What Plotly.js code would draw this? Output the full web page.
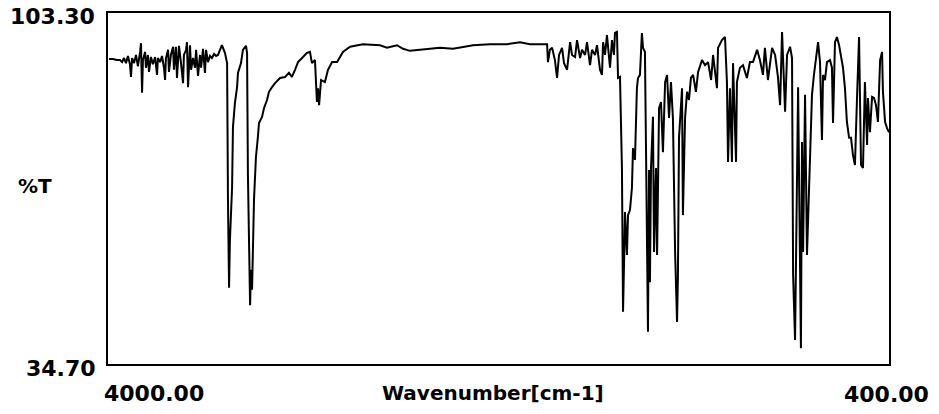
<!DOCTYPE html>
<html>
<head>
<meta charset="utf-8">
<script src="https://cdn.plot.ly/plotly-3.0.1.min.js"></script>
<style>
html,body{margin:0;padding:0;background:#fff;}
#chart{width:939px;height:414px;}
</style>
</head>
<body>
<div id="chart"></div>
<script>
// Wavenumber (cm-1)
const wavenumber = [
3995,3977,3959,3945,3935,3926,3917,3908,3899,3894,3889,3880,3871,3862,3852,3848,3843,3839,3829,3825,
3816,3811,3802,3793,3783,3774,3770,3760,3751,3742,3737,3733,3723,3719,3710,3700,3696,3687,3682,3673,
3664,3654,3650,3640,3636,3631,3622,3617,3608,3599,3594,3585,3576,3571,3562,3553,3548,3539,3530,3521,
3511,3502,3493,3484,3475,3461,3451,3447,3442,3438,3428,3424,3415,3405,3401,3387,3378,3364,3359,3355,
3350,3345,3341,3336,3327,3318,3309,3304,3290,3281,3267,3258,3244,3230,3207,3184,3166,3152,3138,3124,
3101,3083,3069,3060,3046,3037,3032,3027,3018,3000,2986,2967,2944,2917,2884,2825,2746,2714,2668,2640,
2608,2516,2470,2410,2317,2239,2161,2101,2055,1976,1972,1963,1953,1940,1930,1921,1907,1898,1884,1870,
1861,1847,1838,1824,1815,1801,1792,1778,1769,1755,1746,1732,1723,1718,1709,1700,1691,1686,1677,1668,
1663,1654,1649,1640,1631,1626,1621,1617,1608,1603,1594,1585,1580,1571,1562,1557,1548,1539,1534,1525,
1520,1515,1511,1506,1502,1497,1488,1483,1474,1469,1465,1460,1451,1442,1432,1423,1414,1405,1396,1386,
1377,1373,1368,1354,1350,1340,1331,1322,1313,1303,1290,1280,1262,1248,1234,1220,1211,1193,1188,1170,
1156,1147,1142,1133,1124,1119,1105,1101,1087,1073,1055,1041,1027,1008,995,981,972,958,939,925,
912,902,893,879,870,856,847,842,833,819,806,801,796,787,778,764,755,746,736,727,
718,709,704,695,686,672,663,658,649,640,630,621,612,603,594,584,575,566,557,547,
538,529,520,511,501,497,488,478,469,460,451,441,432,428,418,409,400
];
// Transmittance (%T)
const transmittance = [
94.3,94.3,94.1,94.1,93.7,94.5,93.5,94.9,93.3,90.8,94.5,93.5,95.1,92.9,95.7,97.4,87.7,94.1,95.7,92.6,
95.1,91.8,94.7,93.3,94.7,91.2,94.5,93.7,94.9,92.6,90.2,94.5,96.1,91.8,95.1,96.7,92.2,96.7,90.6,96.9,
93.7,89.6,95.1,96.1,97.6,88.8,97.0,92.2,94.5,92.6,96.1,91.0,95.1,92.6,96.3,91.6,96.1,93.7,94.9,94.5,
95.3,94.9,95.1,96.1,97.0,95.5,93.5,66.8,49.6,58.9,69.3,81.0,85.7,88.8,91.6,93.5,96.1,96.9,95.5,71.6,
57.0,46.2,53.1,49.2,66.8,75.2,79.1,81.8,83.0,84.7,86.3,87.9,88.8,89.6,90.6,90.8,91.6,90.8,92.2,93.7,
94.7,95.5,95.7,93.5,94.1,85.9,88.6,85.3,90.2,89.8,92.2,93.7,93.7,95.7,96.7,97.2,97.0,96.5,97.0,96.3,
95.9,96.3,96.5,96.3,97.0,97.2,97.2,97.6,97.2,97.2,93.7,96.1,96.5,94.1,90.6,95.1,96.5,93.5,92.2,97.6,
95.1,94.7,98.0,94.5,96.1,95.1,97.6,93.1,96.1,95.1,97.0,92.2,91.2,97.6,95.1,99.0,94.1,92.6,98.0,95.1,
99.4,99.6,90.6,90.8,73.0,44.9,55.0,64.4,56.0,63.8,64.8,69.1,76.9,74.6,88.6,90.6,91.2,99.4,96.5,95.7,
76.5,58.0,41.0,72.6,50.7,73.0,83.0,56.6,73.0,56.0,73.0,84.7,85.9,76.1,89.8,91.2,82.8,89.8,82.8,56.6,
42.9,51.5,78.9,88.6,63.8,82.8,87.9,86.3,90.6,91.2,87.9,91.8,94.1,93.1,93.7,90.2,95.1,88.6,96.5,98.0,
98.6,89.8,74.2,88.6,74.2,93.5,74.2,89.8,92.6,93.1,90.6,93.7,93.7,96.1,94.1,91.2,96.5,90.2,96.5,95.1,
90.8,85.3,99.6,84.0,95.1,96.7,94.5,52.1,39.4,88.8,37.8,78.1,56.6,87.3,56.0,73.6,87.3,91.2,94.5,97.6,
93.7,78.5,91.2,90.2,93.7,94.1,92.6,81.8,97.6,98.6,97.0,95.1,92.6,88.6,82.0,78.9,78.9,75.5,73.6,87.3,
98.6,73.6,73.0,89.8,77.5,86.7,80.0,86.9,86.7,85.3,82.0,94.1,95.7,87.9,82.0,80.8,80.0
];
const xRange = [4000, 400];
const yRange = [34.7, 103.3];
const yTickLabels = ["103.30", "34.70"];
const xTickLabels = ["4000.00", "400.00"];
const xLabel = "Wavenumber[cm-1]";
const yLabel = "%T";

const font = {family: "DejaVu Sans", size: 22, color: "#000"};
const trace = {
  x: wavenumber, y: transmittance, type: "scatter", mode: "lines",
  line: {color: "#000", width: 2}, hoverinfo: "skip"
};
const ann = (text, x, y, xa, size) => ({
  text: "<b>" + text + "</b>", x: x, y: y, xref: "paper", yref: "paper",
  xanchor: xa, yanchor: "middle", showarrow: false,
  font: Object.assign({}, font, {size: size || 22})
});
const layout = {
  width: 939, height: 414,
  margin: {l: 108, r: 50, t: 13, b: 50},
  paper_bgcolor: "#fff", plot_bgcolor: "#fff",
  showlegend: false,
  xaxis: {range: xRange, showgrid: false, zeroline: false, showticklabels: false, ticks: "",
          showline: true, mirror: true, linecolor: "#000", linewidth: 2},
  yaxis: {range: yRange, showgrid: false, zeroline: false, showticklabels: false, ticks: "",
          showline: true, mirror: true, linecolor: "#000", linewidth: 2},
  annotations: [
    ann(yTickLabels[0], -0.014, 0.990, "right"),
    ann(yTickLabels[1], -0.013, -0.013, "right"),
    ann(yLabel, -0.118, 0.507, "left", 20),
    ann(xTickLabels[0], -0.008, -0.084, "left"),
    ann(xLabel, 0.493, -0.083, "center", 20),
    ann(xTickLabels[1], 1.054, -0.088, "right")
  ]
};
Plotly.newPlot("chart", [trace], layout, {staticPlot: true, displayModeBar: false});
</script>
</body>
</html>
